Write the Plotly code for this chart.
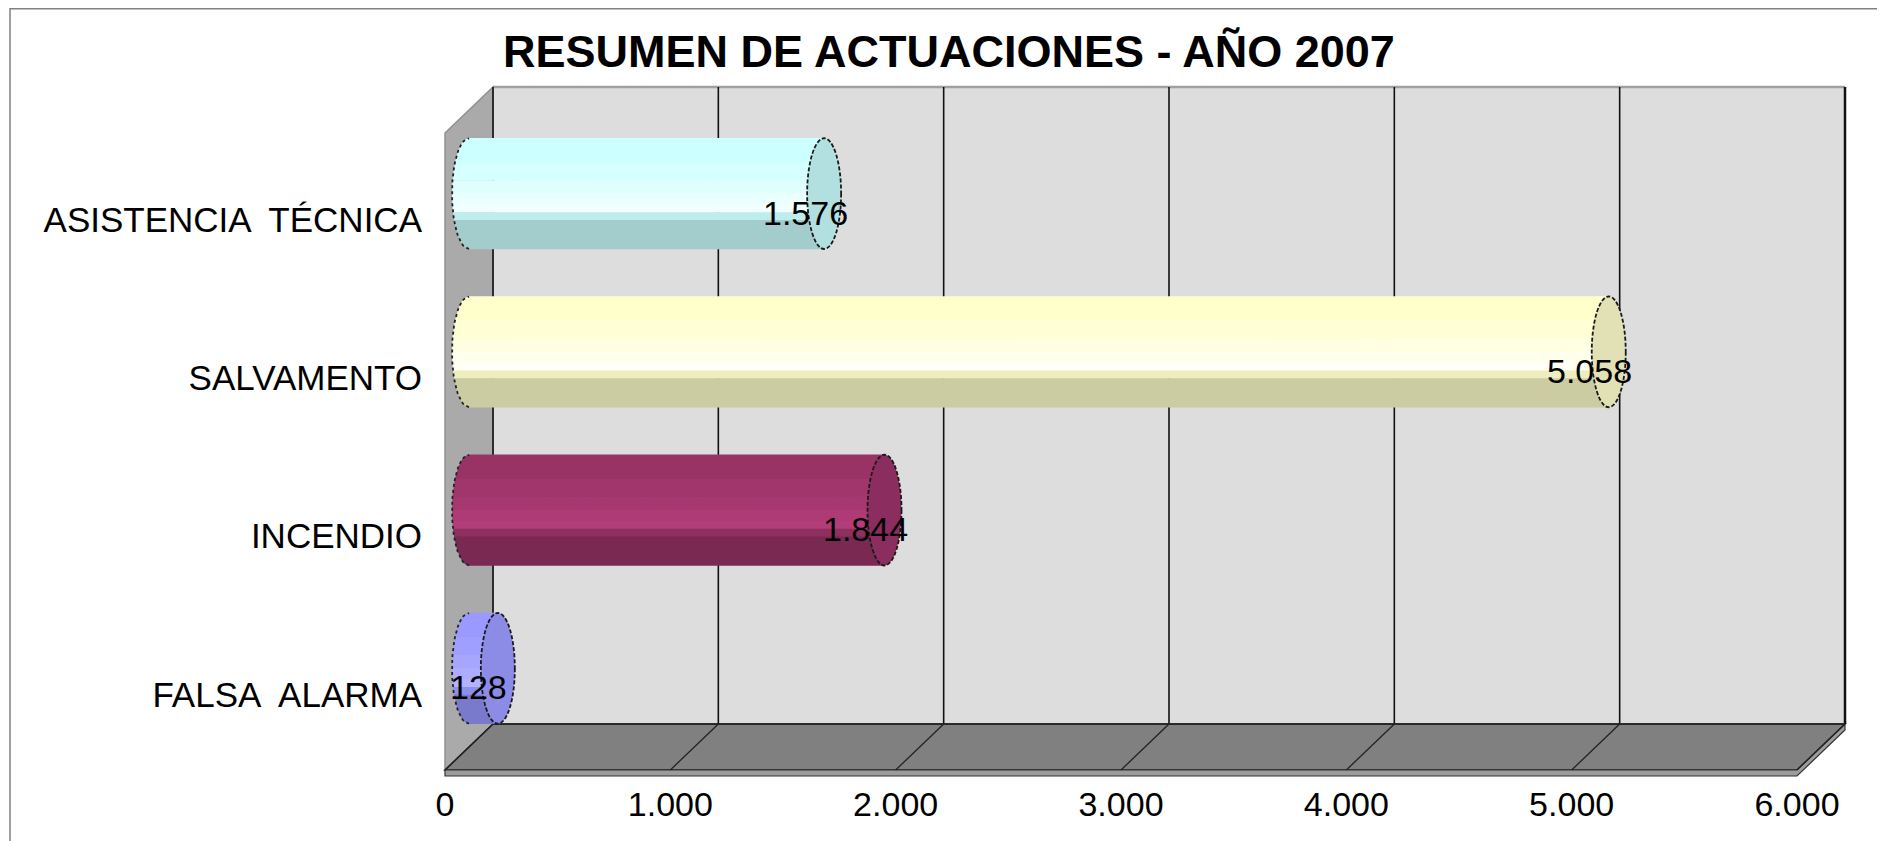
import numpy as np
import plotly.graph_objects as go

# ---------------- data ----------------
categories = ["FALSA ALARMA", "INCENDIO", "SALVAMENTO", "ASISTENCIA TÉCNICA"]
values = [128, 1844, 5058, 1576]
tick_values = [0, 1000, 2000, 3000, 4000, 5000, 6000]
title_text = "RESUMEN DE ACTUACIONES - AÑO 2007"

# ---------------- styles ----------------
base_colors = ["#9999FF", "#993366", "#FFFFCC", "#CCFFFF"]
highlight_colors = ["#B2B2FF", "#B33D79", "#FFFFF6", "#F2FFFF"]
shadow_colors = ["#7A7ACC", "#7A2952", "#CCCCA3", "#A3CCCC"]
cap_colors = ["#8C8CE6", "#8B2D5E", "#E1E1B5", "#B2DFDF"]
# (start fraction from top, end fraction, mix: >0 toward highlight, <0 toward shadow)
bands = [(0.00, 0.22, 0.0), (0.22, 0.38, 0.25), (0.38, 0.50, 0.5),
         (0.50, 0.60, 0.8), (0.60, 0.67, 1.0), (0.67, 0.74, -0.35),
         (0.74, 1.00, -1.0)]

FONT = "Liberation Sans, Arial, Helvetica, sans-serif"
OFF = 8                              # page body margin (px)
W, H = 1885 - OFF, 841 - OFF         # figure size so the page fits the window
X_MAX = 6000
MID_X0, MID_X1 = 469, 1821          # window pixel of 0 and 6000 on the bar (mid-depth) plane
DX = 24                              # half depth, px (horizontal)
BACK_TOP, BACK_BOTTOM = 87, 724
FRONT_BOTTOM = 770
Y_TOP_PX, Y_BOT_PX = 114.5, 747.5    # window pixel of y=3.5 and y=-0.5
BAR_H = 0.70
CAP_RX_PX = 17
PAD_PX = 40

k = X_MAX / (MID_X1 - MID_X0)        # data units per pixel
rx = CAP_RX_PX * k
half = BAR_H / 2


def px(x):
    return (x - OFF) / W


def py(y):
    return 1 - (y - OFF) / H


def hex_rgb(h):
    h = h.lstrip("#")
    return np.array([int(h[i:i + 2], 16) for i in (0, 2, 4)], dtype=float)


def mix(c1, c2, t):
    a, b = hex_rgb(c1), hex_rgb(c2)
    c = a + (b - a) * t
    return "rgb(%d,%d,%d)" % tuple(np.round(c).astype(int))


def fmt(v):
    return f"{v:,}".replace(",", ".")


fig = go.Figure()

# cylinders bodies, band by band
for i, (cat, v) in enumerate(zip(categories, values)):
    for (f0, f1, t) in bands:
        col = mix(base_colors[i], highlight_colors[i], t) if t >= 0 else \
            mix(base_colors[i], shadow_colors[i], -t)
        yb = i + half - BAR_H * f0 + 0.002
        ya = i + half - BAR_H * f1 - 0.002
        ys = np.linspace(yb, ya, 24)
        u = np.clip((ys - i) / half, -1, 1)
        xs = -rx * np.sqrt(1 - u ** 2)
        X = [v] + list(xs) + [v]
        Y = [yb] + list(ys) + [ya]
        fig.add_trace(go.Scatter(x=X, y=Y, mode="lines", fill="toself",
                                 fillcolor=col, line=dict(width=0, color=col),
                                 hoverinfo="skip", showlegend=False))
    # dotted left outline
    ys = np.linspace(i - half, i + half, 40)
    u = np.clip((ys - i) / half, -1, 1)
    fig.add_trace(go.Scatter(x=-rx * np.sqrt(1 - u ** 2), y=ys, mode="lines",
                             line=dict(color="#222222", width=1.8, dash="dot"),
                             hoverinfo="skip", showlegend=False))

shapes = []
# outer border
shapes.append(dict(type="rect", xref="paper", yref="paper", x0=px(10), x1=px(1900),
                   y0=py(860), y1=py(8.8), line=dict(color="#808080", width=1.5),
                   fillcolor="rgba(0,0,0,0)", layer="below"))
# back wall
shapes.append(dict(type="rect", xref="paper", yref="paper",
                   x0=px(MID_X0 + DX), x1=px(MID_X1 + DX), y0=py(BACK_BOTTOM), y1=py(BACK_TOP),
                   fillcolor="#DDDDDD", line=dict(width=0), layer="below"))
shapes.append(dict(type="line", xref="paper", yref="paper",
                   x0=px(MID_X0 + DX), x1=px(MID_X1 + DX), y0=py(BACK_TOP), y1=py(BACK_TOP),
                   line=dict(color="#A0A0A0", width=2.5), layer="below"))
# side wall
sx0, sx1 = MID_X0 - DX, MID_X0 + DX
dyd = FRONT_BOTTOM - BACK_BOTTOM
shapes.append(dict(type="path", xref="paper", yref="paper",
                   path=f"M {px(sx0)},{py(BACK_TOP + dyd)} L {px(sx1)},{py(BACK_TOP)} "
                        f"L {px(sx1)},{py(BACK_BOTTOM)} L {px(sx0)},{py(FRONT_BOTTOM)} Z",
                   fillcolor="#AAAAAA", line=dict(color="#909090", width=1.5), layer="below"))
# floor
fx0, fx1 = MID_X0 - DX, MID_X1 - DX
bx0, bx1 = MID_X0 + DX, MID_X1 + DX
shapes.append(dict(type="path", xref="paper", yref="paper",
                   path=f"M {px(fx0)},{py(FRONT_BOTTOM)} L {px(bx0)},{py(BACK_BOTTOM)} "
                        f"L {px(bx1)},{py(BACK_BOTTOM)} L {px(fx1)},{py(FRONT_BOTTOM)} Z",
                   fillcolor="#808080", line=dict(color="#222222", width=1.5), layer="below"))
# floor front strip
shapes.append(dict(type="path", xref="paper", yref="paper",
                   path=f"M {px(fx0)},{py(FRONT_BOTTOM)} L {px(fx1)},{py(FRONT_BOTTOM)} "
                        f"L {px(bx1)},{py(BACK_BOTTOM)} L {px(bx1)},{py(BACK_BOTTOM + 6)} "
                        f"L {px(fx1)},{py(FRONT_BOTTOM + 6)} L {px(fx0)},{py(FRONT_BOTTOM + 6)} Z",
                   fillcolor="#9C9C9C", line=dict(color="#333333", width=1.2), layer="below"))
# gridlines on back wall and floor
for t in tick_values:
    shapes.append(dict(type="line", xref="x", yref="paper", xsizemode="pixel", xanchor=t,
                       x0=DX, x1=DX, y0=py(BACK_BOTTOM), y1=py(BACK_TOP),
                       line=dict(color="#111111", width=2.5 if t == X_MAX else 1.6), layer="below"))
    shapes.append(dict(type="line", xref="x", yref="paper", xsizemode="pixel", xanchor=t,
                       x0=-DX, x1=DX, y0=py(FRONT_BOTTOM), y1=py(BACK_BOTTOM),
                       line=dict(color="#222222", width=1.3), layer="below"))
shapes.append(dict(type="line", xref="paper", yref="paper",
                   x0=px(bx0), x1=px(bx1), y0=py(BACK_BOTTOM), y1=py(BACK_BOTTOM),
                   line=dict(color="#222222", width=1.6), layer="below"))

# end caps
for i, v in enumerate(values):
    shapes.append(dict(type="circle", xref="x", yref="y", x0=v - rx, x1=v + rx,
                       y0=i - half, y1=i + half, fillcolor=cap_colors[i],
                       line=dict(color="#1A1A1A", width=1.8, dash="4px,2px"), layer="above"))

annotations = []
for i, v in enumerate(values):
    annotations.append(dict(x=v, y=i, xref="x", yref="y", text=fmt(v), showarrow=False,
                            xshift=-19, yshift=-19,
                            font=dict(family=FONT, size=34, color="#000000")))

x_lo = -PAD_PX * k
x_hi = X_MAX + PAD_PX * k
fig.update_layout(
    width=W, height=H, autosize=False,
    margin=dict(l=0, r=0, t=0, b=0),
    paper_bgcolor="white", plot_bgcolor="rgba(0,0,0,0)",
    separators=",.",
    title=dict(text="<b>" + title_text + "</b>", x=px(949), y=py(51), xanchor="center",
               yanchor="middle", font=dict(family=FONT, size=45, color="#000000")),
    xaxis=dict(domain=[px(MID_X0 - PAD_PX), px(MID_X1 + PAD_PX)], range=[x_lo, x_hi],
               tickvals=tick_values, tickformat=",d", showgrid=False, zeroline=False,
               showline=False, ticks="", ticklabelshift=-DX, ticklabelstandoff=33,
               tickfont=dict(family=FONT, size=34, color="#000000"), fixedrange=True),
    yaxis=dict(domain=[py(Y_BOT_PX), py(Y_TOP_PX)], range=[-0.5, 3.5],
               tickvals=list(range(len(categories))),
               ticktext=[c.replace(" ", "\u00a0\u2009") for c in categories],
               showgrid=False, zeroline=False, showline=False, ticks="",
               ticklabelshift=26, ticklabelstandoff=6,
               tickfont=dict(family=FONT, size=35, color="#000000"), fixedrange=True),
    shapes=shapes, annotations=annotations, showlegend=False,
)

fig.write_html("out.html")
